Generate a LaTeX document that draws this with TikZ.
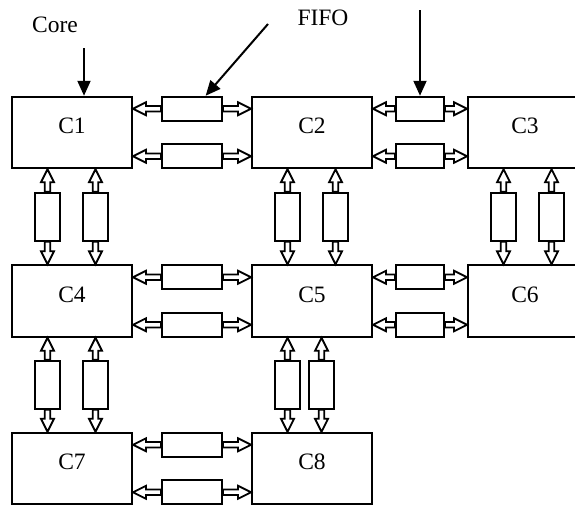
\documentclass[tikz,border=0pt]{standalone}
\usepackage{fontspec}
\setmainfont{Liberation Serif}
\usetikzlibrary{calc,arrows.meta,positioning}
\tikzset{
  core/.style={
    draw,
    line width = 2pt,
    minimum width = 120pt,
    minimum height = 71.5pt,
    inner sep = 0pt,
    text height = 18pt,
    text depth = 16pt
  },
  fifo/.style={
    draw,
    line width = 2pt,
    inner sep = 0pt
  },
}
\tikzset{
  hollow/.style={
    line width = 1.8pt,
    fill = white,
    to path = {
      -- ($(\tikztostart)!2.8pt!90:(\tikztotarget)$)
      -- ($(\tikztotarget)!13pt!(\tikztostart)!2.8pt!90:(\tikztotarget)$)
      -- ($(\tikztotarget)!13pt!(\tikztostart)!6.5pt!90:(\tikztotarget)$)
      -- (\tikztotarget)
      -- ($(\tikztotarget)!13pt!(\tikztostart)!6.5pt!-90:(\tikztotarget)$)
      -- ($(\tikztotarget)!13pt!(\tikztostart)!2.8pt!-90:(\tikztotarget)$)
      -- ($(\tikztostart)!2.8pt!-90:(\tikztotarget)$)
      -- cycle
    }
  },
  feed/.style={
    line width = 2pt,
    -{Triangle[length=15pt,width=13pt]}
  },
}

\begin{document}
\begin{tikzpicture}[x=1pt,y=-1pt,font=\fontsize{23.5}{27}\selectfont]
		  \clip (0,0) rectangle (575,506);
		  % cores
		  \foreach \n/\x/\y in {1/72/132.5, 2/312/132.5, 4/72/301, 5/312/301, 7/72/468.5, 8/312/468.5}{
		    \node[core] (c\n) at (\x,\y) {C\n};
		  }
		  \foreach \n/\y in {3/132.5, 6/301}{
		    \node[core, minimum width=114pt] (c\n) at (525,\y) {C\n};
		  }
		  % horizontal fifos
		  \foreach \l/\r/\w in {1/2/60pt, 2/3/48pt, 4/5/60pt, 5/6/48pt, 7/8/60pt}{
		    \foreach \s/\p in {a/north, b/south}{
		      \node[fifo, minimum width=\w, minimum height=24pt, anchor=\p] (h\l\r\s) at ($(c\l.\p\space east)!0.5!(c\r.\p\space west)$) {};
		      \draw[hollow] (h\l\r\s.west) to (c\l.east |- h\l\r\s.west);
		      \draw[hollow] (h\l\r\s.east) to (c\r.west |- h\l\r\s.east);
		    }
		  }
		  % vertical fifos
		  \foreach \t/\b/\i/\j in {1/4/36.5/84.5, 2/5/36.5/84.5, 3/6/36.5/84.5, 4/7/36.5/84.5, 5/8/36.5/70.5}{
		    \foreach \s/\d in {a/\i, b/\j}{
		      \node[fifo, minimum width=25pt, minimum height=48pt] (v\t\b\s) at ($(c\t.south west)!0.5!(c\b.north west) + (\d,0)$) {};
		      \draw[hollow] (v\t\b\s.north) to (v\t\b\s.north |- c\t.south);
		      \draw[hollow] (v\t\b\s.south) to (v\t\b\s.south |- c\b.north);
		    }
		  }
		  % labels and feeds
		  \node (core) at (55,24.5) {Core};
		  \node (fifo) at (323,18) {FIFO};
		  \coordinate (coretail) at (84,48);
		  \coordinate (fifotail) at (268,24);
		  \coordinate (fifotop) at (420,10);
		  \draw[feed] (coretail) -- (coretail |- c1.north);
		  \draw[feed] (fifotail) -- ($(h12a.north west)!0.72!(h12a.north east)$);
		  \draw[feed] (fifotop) -- (h23a.north);
		\end{tikzpicture}
\end{document}
